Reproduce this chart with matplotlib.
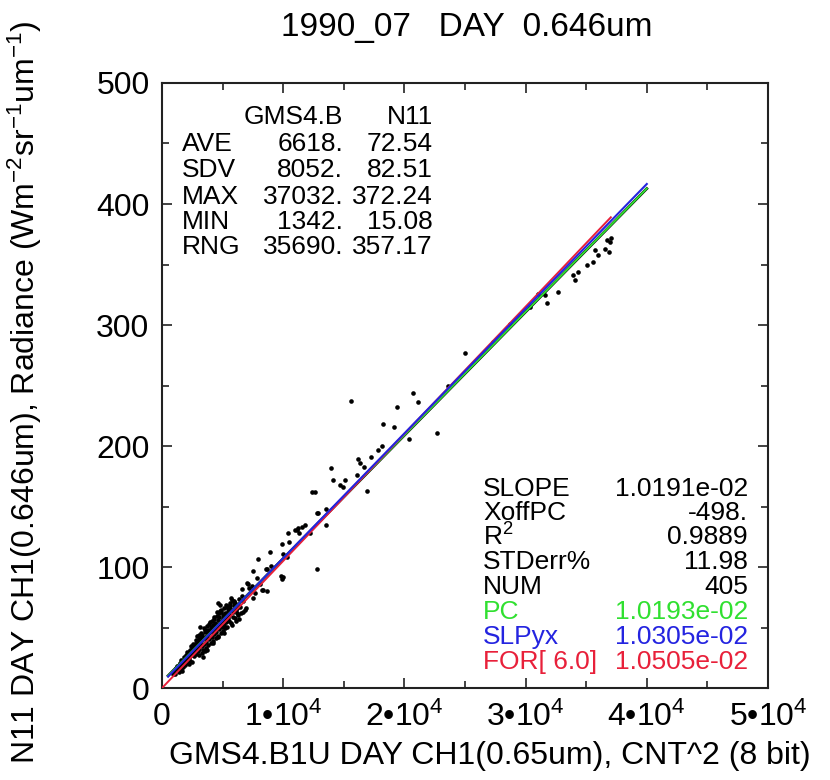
import matplotlib
matplotlib.use("Agg")
import matplotlib.pyplot as plt
from matplotlib.ticker import MultipleLocator, FuncFormatter
import numpy as np

plt.rcParams["font.family"] = ["Liberation Sans", "DejaVu Sans"]
plt.rcParams["mathtext.fontset"] = "custom"
plt.rcParams["mathtext.rm"] = "Liberation Sans"
plt.rcParams["mathtext.it"] = "Liberation Sans:italic"
plt.rcParams["mathtext.bf"] = "Liberation Sans:bold"

# ---- collocated samples: GMS4 counts^2 vs N11 radiance ----
gms_cnt2 = [
    900, 1000, 1100, 1200, 1342, 1420, 1510, 1580, 1660, 1730, 1790, 1860, 1920, 1990,
    2060, 2120, 2170, 2240, 2290, 2350, 2410, 2470, 2530, 2560, 2620, 2680, 2710, 2780,
    2830, 2870, 2940, 2990, 3040, 3090, 3135, 3160, 3210, 3260, 3310, 3340, 3390, 3410,
    3460, 3520, 3560, 3610, 3660, 3690, 3760, 3800, 3840, 3910, 3960, 4010, 4060, 4090,
    4140, 4210, 4240, 4310, 4340, 4390, 4440, 4480, 4530, 4590, 4650, 4660, 4720, 4785,
    4810, 4860, 4920, 4940, 5010, 5060, 5110, 5160, 5200, 5230, 5270, 5340, 5410, 5470,
    5520, 5560, 5610, 5640, 5750, 5790, 5840, 5880, 5940, 6020, 6090, 6160, 6210, 6300,
    6380, 6440, 6520, 6570, 6710, 6850, 6930, 7040, 7070, 7200, 7540, 7540, 7810, 7950,
    8090, 8220, 8360, 8580, 8640, 8690, 8910, 8960, 9820, 9870, 9930, 10010, 10010, 10340,
    10420, 10480, 10970, 11110, 11250, 11330, 11530, 11800, 12210, 12400, 12620, 12760,
    12810, 12850, 13500, 13530, 13940, 14080, 14690, 14910, 15100, 15600, 16060, 16200,
    16340, 16670, 16890, 17240, 17850, 18120, 18210, 19170, 19420, 20380, 20740, 21150,
    22660, 23620, 25000, 27340, 28710, 30360, 31050, 31600, 31740, 32700, 33940, 34080,
    34350, 35040, 35590, 35730, 36000, 36550, 36690, 36910, 36960, 37032,
    1250, 1650, 2010, 2480, 2760, 3080, 3330, 3570, 3880, 4180, 4420, 4620, 4900, 5080,
    5330, 5700, 5980, 6250, 4300, 4750, 5350, 5900, 3700, 2900, 2200,
    1480, 1820, 2090, 2330, 2590, 2820, 3020, 3240, 3480, 3630, 3870, 4030, 4270, 4500,
    4690, 4880, 5120, 5290, 5480, 5670, 6060, 6330, 6610, 7390, 1150, 1560, 2640, 3190,
    3730, 4120, 4560, 5020, 5590, 6120, 2380, 3530, 4720, 5450, 6690, 7650,
]
n11_rad = [
    12.0, 14.0, 11.5, 16.3, 15.08, 13.2, 18.4, 16.0, 20.1, 17.2, 22.6, 19.1, 24.3, 21.0,
    26.4, 23.1, 28.2, 24.6, 30.3, 22.4, 27.4, 32.1, 29.0, 34.2, 26.3, 31.4, 36.0, 28.3,
    33.1, 38.2, 30.4, 35.0, 40.3, 32.2, 50.7, 37.1, 42.4, 29.3, 34.6, 44.2, 31.1, 25.9,
    36.4, 41.2, 46.3, 33.3, 38.1, 43.4, 48.2, 35.4, 40.2, 45.3, 54.8, 50.3, 37.4, 42.2,
    47.3, 52.4, 39.1, 44.4, 49.2, 54.1, 41.3, 46.2, 51.4, 56.0, 70.0, 43.3, 48.4, 68.6,
    53.2, 45.3, 50.1, 55.4, 60.3, 47.2, 52.4, 57.3, 62.1, 49.4, 54.3, 50.7, 58.2, 63.4,
    55.1, 60.4, 70.0, 65.2, 72.7, 52.3, 58.4, 63.1, 68.3, 57.6, 55.2, 61.7, 66.2, 68.6,
    57.4, 67.2, 62.3, 81.6, 63.0, 64.5, 66.0, 87.0, 86.0, 83.0, 96.7, 74.0, 90.6, 106.6,
    86.0, 81.0, 81.0, 98.3, 80.0, 98.0, 112.6, 100.8, 92.6, 89.8, 119.0, 91.5, 111.0, 108.5,
    128.0, 120.4, 130.6, 130.6, 132.5, 127.8, 133.0, 134.7, 128.0, 162.0, 162.0, 98.0,
    145.0, 145.0, 135.0, 147.7, 182.0, 172.0, 168.0, 166.0, 172.0, 237.5, 176.0, 189.0,
    186.0, 183.0, 163.0, 191.0, 196.7, 200.0, 218.0, 215.5, 232.0, 206.0, 244.0, 236.0,
    211.0, 250.0, 276.6, 286.0, 301.0, 315.0, 326.0, 325.0, 318.0, 327.5, 341.0, 337.0,
    344.0, 349.6, 352.0, 362.0, 358.0, 363.0, 370.0, 360.6, 369.0, 372.24,
    18.5, 14.2, 27.1, 21.4, 35.6, 27.3, 40.6, 30.2, 46.4, 37.6, 52.6, 42.1, 63.2, 45.8,
    61.5, 53.4, 71.3, 60.4, 58.3, 64.0, 66.8, 71.6, 31.5, 43.2, 19.8,
    20.6, 25.3, 29.4, 31.8, 36.7, 39.4, 43.6, 45.1, 49.6, 41.8, 53.1, 48.7, 57.2, 59.4,
    61.8, 64.1, 66.3, 68.9, 66.1, 74.5, 70.6, 73.8, 76.2, 84.1, 16.9, 22.8, 33.9, 39.7,
    51.2, 55.6, 62.7, 57.9, 68.1, 64.4, 34.5, 47.9, 58.6, 67.4, 71.9, 78.8,
]

# ---- summary statistics and fitted slopes ----
stat_names = ["AVE", "SDV", "MAX", "MIN", "RNG"]
stat_gms = ["6618.", "8052.", "37032.", "1342.", "35690."]
stat_n11 = ["72.54", "82.51", "372.24", "15.08", "357.17"]

x_mean, y_mean = 6618.0, 72.54
x_min, x_max = 1342.0, 37032.0
slope_fit = 1.0191e-02
xoff_pc = -498.0
slope_pc = 1.0193e-02
slope_yx = 1.0305e-02
slope_for = 1.0505e-02
fit_x_start, fit_x_end = 500.0, 40000.0

fit_labels = ["SLOPE", "XoffPC", "R$^{2}$", "STDerr%", "NUM", "PC", "SLPyx", "FOR[ 6.0]"]
fit_values = ["1.0191e-02", "-498.", "0.9889", "11.98", "405",
              "1.0193e-02", "1.0305e-02", "1.0505e-02"]
fit_colors = ["black", "black", "black", "black", "black", "#30e030", "#2424e0", "#e8203a"]

fig = plt.figure(figsize=(8.3, 7.8), dpi=100)
ax = fig.add_axes([0.1952, 0.1179, 0.7301, 0.7757])

ax.scatter(gms_cnt2, n11_rad, s=11, color="black", linewidths=0, zorder=2)

xs = np.array([fit_x_start, fit_x_end])
# regression line with the PC offset, plus the PC and y-on-x fits through the means
ax.plot(xs, slope_fit * (xs - xoff_pc), color="black", lw=2.0, zorder=3)
ax.plot(xs, y_mean + slope_pc * (xs - x_mean), color="#30e030", lw=1.4, zorder=3)
ax.plot(xs, y_mean + slope_yx * (xs - x_mean), color="#2424e0", lw=1.5, zorder=4)
xr = np.array([0.0, x_max])
ax.plot(xr, slope_for * xr, color="#e8203a", lw=1.4, zorder=3.5)

ax.set_xlim(0, 50000)
ax.set_ylim(0, 500)
ax.xaxis.set_major_locator(MultipleLocator(10000))
ax.xaxis.set_minor_locator(MultipleLocator(5000))
ax.yaxis.set_major_locator(MultipleLocator(100))
ax.yaxis.set_minor_locator(MultipleLocator(50))


def xfmt(v, pos):
    if v == 0:
        return "0"
    return "%d\u202210$^{4}$" % int(round(v / 1e4))


ax.xaxis.set_major_formatter(FuncFormatter(xfmt))
ax.tick_params(which="both", direction="in", top=True, right=True, width=1.2, color="#222222")
ax.tick_params(which="major", length=7.5, labelsize=23)
ax.tick_params(which="minor", length=5)
ax.tick_params(axis="y", which="major", pad=9)
ax.tick_params(axis="x", which="major", pad=10)
for sp in ax.spines.values():
    sp.set_linewidth(1.5)
    sp.set_color("#222222")

fig.text(0.5627, 0.965, "1990_07   DAY  0.646um", ha="center", va="center", fontsize=24)
fig.text(0.59, 0.031, "GMS4.B1U DAY CH1(0.65um), CNT^2 (8 bit)", ha="center", va="center",
         fontsize=23)
fig.text(0.030, 0.497, "N11 DAY CH1(0.646um), Radiance (Wm$^{-2}$sr$^{-1}$um$^{-1}$)",
         rotation=90, ha="center", va="center", fontsize=23)

# statistics table, upper left
tfs = 19
ax.text(0.299, 0.944, "GMS4.B", transform=ax.transAxes, ha="right", va="center", fontsize=tfs)
ax.text(0.447, 0.944, "N11", transform=ax.transAxes, ha="right", va="center", fontsize=tfs)
rows_y = [0.899, 0.856, 0.812, 0.770, 0.729]
for name, g, n, yy in zip(stat_names, stat_gms, stat_n11, rows_y):
    ax.text(0.033, yy, name, transform=ax.transAxes, ha="left", va="center", fontsize=tfs)
    ax.text(0.299, yy, g, transform=ax.transAxes, ha="right", va="center", fontsize=tfs)
    ax.text(0.447, yy, n, transform=ax.transAxes, ha="right", va="center", fontsize=tfs)

# fit summary, lower right
fit_y = [0.329, 0.289, 0.250, 0.208, 0.167, 0.126, 0.084, 0.043]
for lab, val, col, yy in zip(fit_labels, fit_values, fit_colors, fit_y):
    ax.text(0.530, yy, lab, transform=ax.transAxes, ha="left", va="center", fontsize=tfs,
            color=col)
    ax.text(0.967, yy, val, transform=ax.transAxes, ha="right", va="center", fontsize=tfs,
            color=col)

fig.savefig("out.png", dpi=100)
